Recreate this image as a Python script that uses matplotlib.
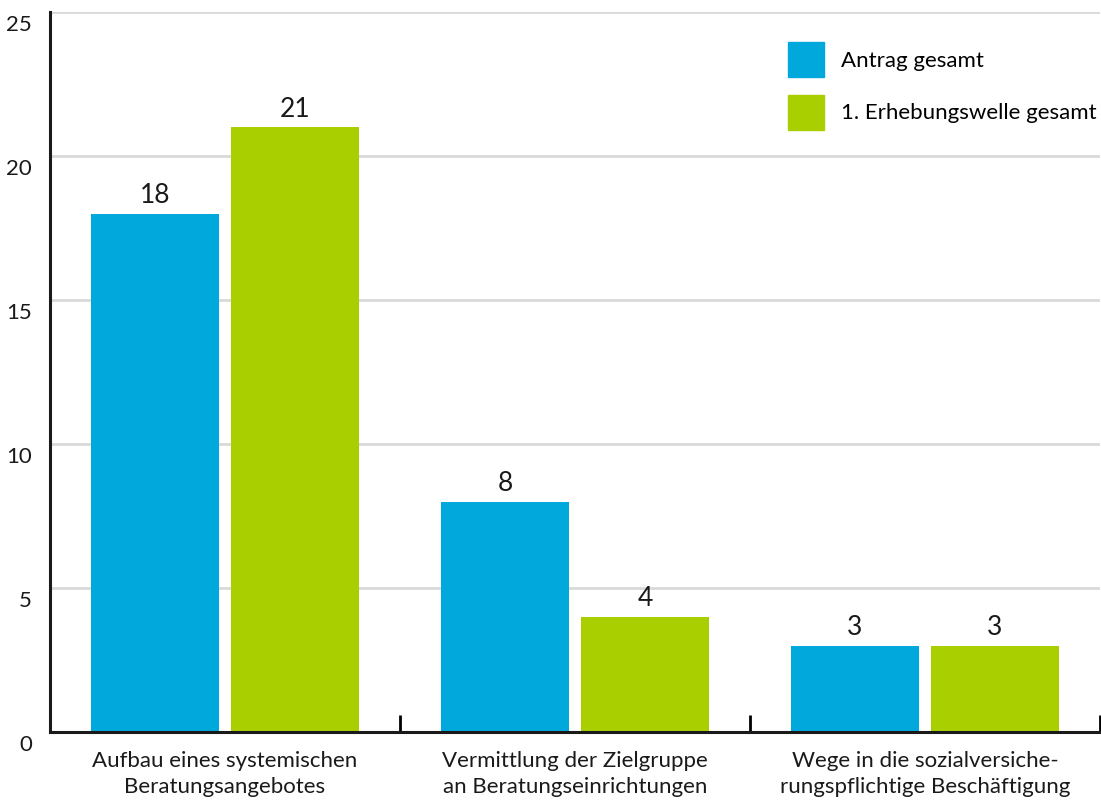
import matplotlib.pyplot as plt
import matplotlib.transforms as mtransforms
from matplotlib.patches import Patch
import numpy as np

categories = ["Aufbau eines systemischen\nBeratungsangebotes",
              "Vermittlung der Zielgruppe\nan Beratungseinrichtungen",
              "Wege in die sozialversiche-\nrungspflichtige Beschäftigung"]
antrag = [18, 8, 3]
erhebung = [21, 4, 3]
series_names = ["Antrag gesamt", "1. Erhebungswelle gesamt"]
y_ticks = [0, 5, 10, 15, 20, 25]

BLUE = '#00a8dc'
GREEN = '#aacf00'

plt.rcParams['font.family'] = ['Lato', 'DejaVu Sans']

fig = plt.figure(figsize=(11.01, 8.06), dpi=100)
ax = fig.add_axes([50 / 1101, 1 - 732 / 806, 1050 / 1101, 720 / 806])

x = np.arange(len(categories))
width = 0.363
b1 = ax.bar(x - 0.2, antrag, width, color=BLUE, zorder=3)
b2 = ax.bar(x + 0.2, erhebung, width, color=GREEN, zorder=3)
ax.bar_label(b1, padding=4, fontsize=19, color='#1a1a1a')
ax.bar_label(b2, padding=4, fontsize=19, color='#1a1a1a')

ax.set_xlim(-0.5, 2.5)
ax.set_ylim(0, 25)
ax.set_yticks(y_ticks)
ax.set_yticklabels([str(v) for v in y_ticks], fontsize=16, color='#1a1a1a')
ax.tick_params(axis='y', length=0, pad=13)
offset = mtransforms.ScaledTranslation(0, -8 / 72, fig.dpi_scale_trans)
for lbl in ax.get_yticklabels():
    lbl.set_transform(lbl.get_transform() + offset)

ax.set_xticks(x)
ax.set_xticklabels(categories, fontsize=16, color='#1a1a1a', linespacing=1.35)
ax.tick_params(axis='x', which='major', length=0, pad=14)
ax.set_xticks([0.5, 1.5, 2.5], minor=True)
ax.tick_params(axis='x', which='minor', direction='in', length=12, width=2)

ax.grid(axis='y', color='#d9d9d9', linewidth=2, zorder=0)
for side in ['top', 'right']:
    ax.spines[side].set_visible(False)
for side in ['left', 'bottom']:
    ax.spines[side].set_linewidth(2.2)
    ax.spines[side].set_color('#1a1a1a')
    ax.spines[side].set_zorder(4)

handles = [Patch(color=BLUE), Patch(color=GREEN)]
ax.legend(handles, series_names, loc='upper left',
          bbox_to_anchor=(788 / 1101, 1 - 42 / 806), bbox_transform=fig.transFigure,
          frameon=False, fontsize=16, handlelength=1.6, handleheight=2.05,
          handletextpad=0.8, labelspacing=0.8, borderpad=0, borderaxespad=0)

fig.savefig('out.png', dpi=100)
